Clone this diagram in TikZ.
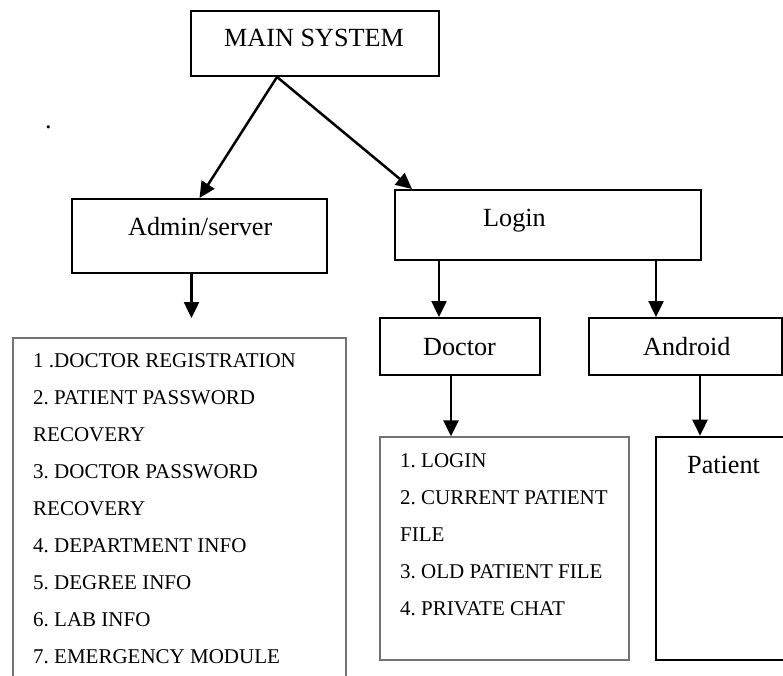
\documentclass[tikz,border=0pt]{standalone}
\usepackage{fontspec}
\setmainfont{Liberation Serif}
\usetikzlibrary{arrows.meta}

\newcommand{\boxfont}{\fontsize{26.2}{30}\selectfont}
\newcommand{\listfont}{\fontsize{21}{37}\selectfont}
\frenchspacing

\tikzset{
  box/.style={draw, line width=2pt, inner sep=0pt},
  listbox/.style={draw=black!55, line width=1.3pt, inner sep=0pt},
  boxtxt/.style={font=\boxfont, inner sep=0pt, anchor=base west},
  listtxt/.style={font=\listfont, inner sep=0pt, anchor=north west, align=left},
  arr/.style={-{Triangle[length=16pt,width=15pt]}, line width=2.5pt}
}

\begin{document}
\begin{tikzpicture}[x=1pt,y=1pt,yscale=-1]
\clip (0,0) rectangle (783,676); %diagram area 783 x 676

%Shape: Rectangle [main]
\node[box, minimum width=248pt, minimum height=65pt] (main) at (315,43.5) {};
%Shape: Rectangle [admin]
\node[box, minimum width=255pt, minimum height=74pt] (admin) at (199.5,236) {};
%Shape: Rectangle [login]
\node[box, minimum width=306pt, minimum height=70pt] (login) at (548,225) {};
%Shape: Rectangle [doctor]
\node[box, minimum width=160pt, minimum height=57pt] (doctor) at (460,346.5) {};
%Shape: Rectangle [android]
\node[box, minimum width=193pt, minimum height=57pt] (android) at (685.5,346.5) {};
%Shape: Rectangle [admin list, runs past the lower edge]
\node[listbox, minimum width=333pt, minimum height=362pt] (adminlist) at (179.5,519) {};
%Shape: Rectangle [doctor list]
\node[listbox, minimum width=249pt, minimum height=223pt] (doclist) at (504.5,548.5) {};
%Shape: Rectangle [patient, runs past the right edge]
\node[box, line width=2.6pt, minimum width=144pt, minimum height=223pt] (patient) at (728,548.5) {};

%Straight Lines
\draw[arr] ([xshift=-38pt]main.south) -- (admin.north);
\draw[arr] ([xshift=-38pt]main.south) -- ([xshift=18pt]login.north west);
\draw[arr] ([xshift=-8pt]admin.south) -- ++(0,44);
\draw[arr] ([xshift=-21pt]doctor.north |- login.south) -- ([xshift=-21pt]doctor.north);
\draw[arr] ([xshift=-29.5pt]android.north |- login.south) -- ([xshift=-29.5pt]android.north);
\draw[arr] ([xshift=-9pt]doctor.south) -- ([xshift=-9pt]doctor.south |- doclist.north);
\draw[arr] ([xshift=14.5pt]android.south) -- ([xshift=14.5pt]android.south |- patient.north);

% Text Node
\node[boxtxt] (maintxt) at (224,47) {MAIN SYSTEM};
% Text Node
\node[boxtxt] (dot) at (45,129) {.};
% Text Node
\node[boxtxt] (admintxt) at (128,235) {Admin/server};
% Text Node
\node[boxtxt] (logintxt) at (483,226) {Login};
% Text Node
\node[boxtxt] (doctortxt) at (423,355) {Doctor};
% Text Node
\node[boxtxt] (androidtxt) at (643,355) {Android};
% Text Node
\node[boxtxt] (patienttxt) at (687,473) {Patient};
% Text Node
\node[listtxt] (adminitems) at (33,353) {1 .DOCTOR REGISTRATION\\
2. PATIENT PASSWORD\\
RECOVERY\\
3. DOCTOR PASSWORD\\
RECOVERY\\
4. DEPARTMENT INFO\\
5. DEGREE INFO\\
6. LAB INFO\\
7. EMERGENCY MODULE};
% Text Node
\node[listtxt] (docitems) at (400,453) {1. LOGIN\\
2. CURRENT PATIENT\\
FILE\\
3. OLD PATIENT FILE\\
4. PRIVATE CHAT};

\end{tikzpicture}
\end{document}
